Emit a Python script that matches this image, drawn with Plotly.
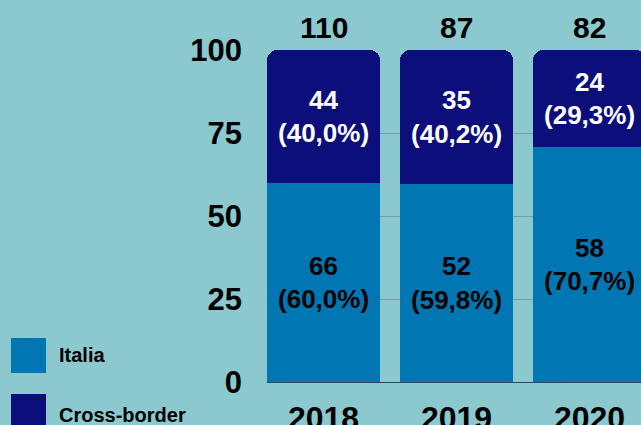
import plotly.graph_objects as go

years = ["2018", "2019", "2020"]
italia = [66, 52, 58]
cross_border = [44, 35, 24]
totals = [110, 87, 82]
y_ticks = [0, 25, 50, 75, 100]

BG = "#8bc9ce"
C_ITA = "#0077b3"
C_CB = "#0c0f7b"
FONT = "Liberation Sans, Arial, sans-serif"

ita_pct = [a / t * 100 for a, t in zip(italia, totals)]
cb_pct = [c / t * 100 for c, t in zip(cross_border, totals)]

def lab(v, p):
    return f"<b>{v}<br>({p:.1f}%)</b>".replace(".", ",")

fig = go.Figure()
fig.add_trace(go.Bar(
    x=years, y=ita_pct, name="Italia", marker=dict(color=C_ITA, line=dict(width=0)),
    text=[lab(v, p) for v, p in zip(italia, ita_pct)],
    textposition="inside", insidetextanchor="middle", constraintext="none",
    textfont=dict(family=FONT, size=26, color="black"), hoverinfo="skip",
))
fig.add_trace(go.Bar(
    x=years, y=cb_pct, name="Cross-border", marker=dict(color=C_CB, line=dict(width=0)),
    text=[lab(v, p) for v, p in zip(cross_border, cb_pct)],
    textposition="inside", insidetextanchor="middle", constraintext="none",
    textfont=dict(family=FONT, size=26, color="white"), hoverinfo="skip",
))

annotations = []
for i, t in enumerate(totals):
    annotations.append(dict(x=i, y=100, xref="x", yref="y", text=f"<b>{t}</b>",
                            showarrow=False, yanchor="middle", yshift=23,
                            font=dict(family=FONT, size=30, color="black")))

L, T, PW, PH = 267, 50, 374, 332
def px(x):
    return (x - L) / PW
def py(y):
    return (T + PH - y) / PH

shapes = []
for (y0, y1), col, name, ty in [((338, 373), C_ITA, "Italia", 355), ((394, 429), C_CB, "Cross-border", 415)]:
    shapes.append(dict(type="rect", xref="paper", yref="paper", x0=px(11), x1=px(46),
                       y0=py(y1), y1=py(y0), fillcolor=col, line=dict(width=0), layer="above"))
    annotations.append(dict(x=px(57), y=py(ty), xref="paper", yref="paper", text=f"<b>{name}</b>",
                            showarrow=False, xanchor="left", yanchor="middle",
                            font=dict(family=FONT, size=20, color="black")))

fig.update_layout(
    width=641, height=425,
    margin=dict(l=L, r=0, t=T, b=425 - T - PH, autoexpand=False),
    paper_bgcolor=BG, plot_bgcolor=BG,
    barmode="stack", bargap=0.15, barcornerradius=10,
    showlegend=False,
    annotations=annotations, shapes=shapes,
    font=dict(family=FONT),
)
fig.update_xaxes(
    type="category", automargin=False,
    range=[-0.425, 2.387], showgrid=False, showline=True, linecolor="#2f4b5a", linewidth=1,
    ticks="", ticklabelstandoff=8,
    tickfont=dict(family=FONT, size=32, color="black", weight="bold"),
)
fig.update_yaxes(
    automargin=False,
    range=[0, 100], tickvals=y_ticks, showgrid=True, gridcolor="#7a9ea3", gridwidth=1,
    zeroline=False, showline=False, ticks="", ticklabelstandoff=24,
    tickfont=dict(family=FONT, size=31, color="black", weight="bold"),
)

fig.write_html("out.html", config={"displayModeBar": False},
               post_script="document.body.style.margin='0';document.body.style.overflow='hidden';")
